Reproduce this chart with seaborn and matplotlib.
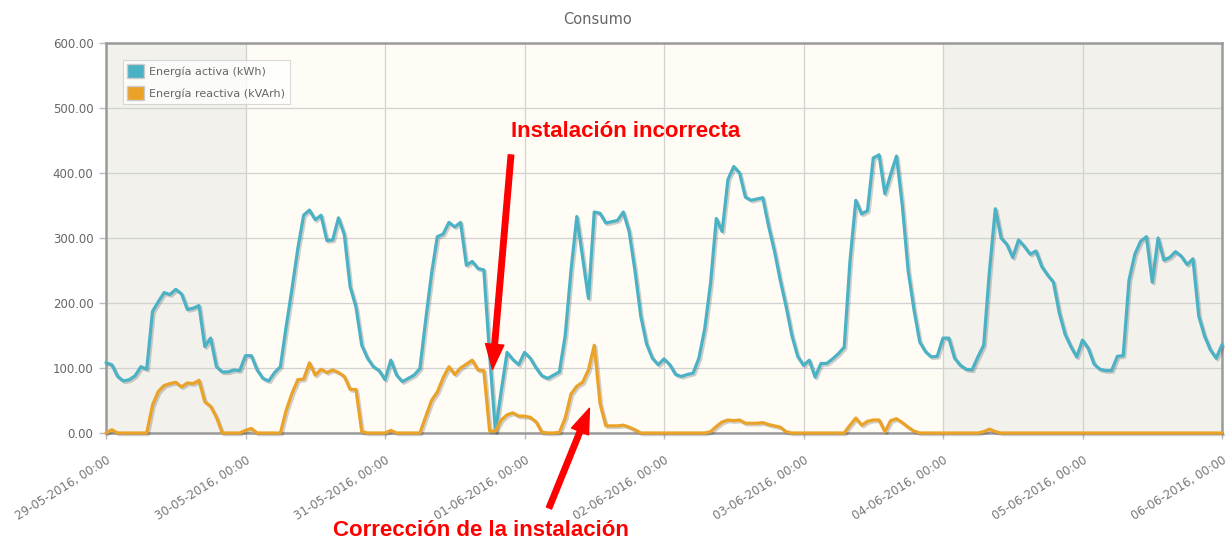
import numpy as np
import pandas as pd
import matplotlib
matplotlib.use("Agg")
import matplotlib.pyplot as plt
import matplotlib.dates as mdates
import matplotlib.patheffects as pe
from matplotlib.patches import Patch
from matplotlib.ticker import FormatStrFormatter
import seaborn as sns

# ---------------- data (hourly readings) ----------------
activa_29_05 = [108, 105, 87, 80, 82, 88, 102, 98, 187, 202, 216, 213, 221, 214, 190, 192, 196, 133, 146, 102, 94, 94, 97, 96]
activa_30_05 = [119, 119, 97, 84, 80, 93, 102, 164, 222, 284, 335, 343, 328, 335, 296, 297, 331, 305, 225, 194, 135, 115, 102, 96]
activa_31_05 = [82, 112, 89, 79, 84, 89, 99, 174, 245, 302, 306, 324, 317, 324, 258, 264, 253, 251, 120, 2, 65, 124, 113, 105]
activa_01_06 = [124, 115, 100, 88, 84, 89, 94, 150, 250, 333, 270, 207, 340, 338, 323, 325, 327, 340, 310, 250, 180, 137, 115, 105]
activa_02_06 = [114, 105, 90, 87, 90, 92, 115, 160, 230, 330, 310, 390, 410, 400, 363, 358, 360, 362, 318, 280, 235, 195, 150, 118]
activa_03_06 = [104, 112, 86, 107, 107, 114, 122, 132, 265, 358, 337, 342, 423, 428, 368, 398, 426, 350, 250, 190, 140, 125, 117, 118]
activa_04_06 = [146, 146, 115, 104, 98, 97, 117, 135, 250, 345, 300, 290, 270, 297, 287, 275, 280, 256, 243, 232, 185, 152, 133, 117]
activa_05_06 = [143, 130, 106, 98, 96, 96, 118, 119, 235, 275, 295, 302, 232, 300, 266, 270, 279, 272, 259, 268, 180, 149, 128, 115]
activa_final = [136]

reactiva_29_05 = [0, 5, 0, 0, 0, 0, 0, 0, 43, 64, 73, 76, 78, 71, 77, 76, 81, 48, 41, 24, 0, 0, 0, 0]
reactiva_30_05 = [4, 7, 0, 0, 0, 0, 0, 35, 61, 82, 83, 108, 89, 98, 93, 97, 93, 87, 67, 67, 2, 0, 0, 0]
reactiva_31_05 = [0, 4, 0, 0, 0, 0, 0, 25, 50, 63, 85, 102, 90, 100, 106, 112, 97, 96, 3, 3, 20, 28, 31, 26]
reactiva_01_06 = [26, 24, 17, 1, 0, 0, 1, 23, 60, 72, 78, 97, 135, 45, 11, 11, 11, 12, 9, 5, 0, 0, 0, 0]
reactiva_02_06 = [0, 0, 0, 0, 0, 0, 0, 0, 2, 10, 17, 20, 19, 20, 15, 15, 15, 16, 13, 11, 9, 2, 0, 0]
reactiva_03_06 = [0, 0, 0, 0, 0, 0, 0, 0, 12, 23, 12, 18, 20, 20, 2, 19, 22, 16, 9, 3, 0, 0, 0, 0]
reactiva_04_06 = [0, 0, 0, 0, 0, 0, 0, 2, 6, 2, 0, 0, 0, 0, 0, 0, 0, 0, 0, 0, 0, 0, 0, 0]
reactiva_05_06 = [0] * 24
reactiva_final = [0]

series_names = ["Energía activa (kWh)", "Energía reactiva (kVArh)"]
series_colors = ["#4bb2c5", "#eaa228"]
start_date = "2016-05-29 00:00"
day_ticks = pd.date_range("2016-05-29", "2016-06-06", freq="D")
y_ticks = [0, 100, 200, 300, 400, 500, 600]
band_edges = ["2016-05-29", "2016-05-30", "2016-06-04", "2016-06-06"]
band_colors = ["#f2f1ec", "#fefcf4", "#f2f1ec"]

activa = (activa_29_05 + activa_30_05 + activa_31_05 + activa_01_06 +
          activa_02_06 + activa_03_06 + activa_04_06 + activa_05_06 + activa_final)
reactiva = (reactiva_29_05 + reactiva_30_05 + reactiva_31_05 + reactiva_01_06 +
            reactiva_02_06 + reactiva_03_06 + reactiva_04_06 + reactiva_05_06 + reactiva_final)
fechas = pd.date_range(start_date, periods=len(activa), freq="h")

df = pd.concat([
    pd.DataFrame({"fecha": fechas, "valor": activa, "serie": series_names[0]}),
    pd.DataFrame({"fecha": fechas, "valor": reactiva, "serie": series_names[1]}),
])

# ---------------- figure ----------------
sns.set_style("white")
plt.rcParams["font.family"] = ["DejaVu Sans"]

W, H = 1228, 545
fig = plt.figure(figsize=(W / 100, H / 100), dpi=100)
ax = fig.add_axes([106 / W, 112 / H, 1116 / W, 390 / H])

for i, c in enumerate(band_colors):
    ax.axvspan(pd.Timestamp(band_edges[i]), pd.Timestamp(band_edges[i + 1]),
               color=c, zorder=0, lw=0)

sns.lineplot(data=df, x="fecha", y="valor", hue="serie", hue_order=series_names,
             palette=series_colors, linewidth=2.3, ax=ax, legend=False)
for ln in ax.lines:
    ln.set_path_effects([pe.SimpleLineShadow(offset=(1.2, -1.2), alpha=0.18, shadow_color="k"),
                         pe.Normal()])
    ln.set_clip_on(False)
    ln.set_zorder(3)

ax.set_xlim(day_ticks[0], day_ticks[-1])
ax.set_ylim(0, 600)
ax.set_yticks(y_ticks)
ax.yaxis.set_major_formatter(FormatStrFormatter("%.2f"))
ax.set_xticks(day_ticks)
ax.xaxis.set_major_formatter(mdates.DateFormatter("%d-%m-%Y, %H:%M"))
ax.set_xlabel("")
ax.set_ylabel("")

ax.grid(True, color="#d2d2d2", lw=0.9)
ax.set_axisbelow(True)
for s in ax.spines.values():
    s.set_visible(True)
    s.set_color("#9a9a9a")
    s.set_linewidth(1.8)

ax.tick_params(axis="y", which="major", left=True, length=5, width=1, color="#bbbbbb",
               pad=4, labelsize=8.5, labelcolor="#666666")
ax.tick_params(axis="x", which="major", bottom=True, length=4, width=1, color="#bbbbbb",
               pad=11, labelsize=8.5, labelcolor="#777777")
for lab in ax.get_xticklabels():
    lab.set_rotation(32)
    lab.set_ha("right")
    lab.set_rotation_mode("anchor")

handles = [Patch(facecolor=series_colors[0], edgecolor="#cccccc", label=series_names[0]),
           Patch(facecolor=series_colors[1], edgecolor="#cccccc", label=series_names[1])]
leg = ax.legend(handles=handles, loc="upper left", bbox_to_anchor=(0.015, 0.957),
                frameon=True, fancybox=False, edgecolor="#cccccc", framealpha=0.75,
                fontsize=8, labelcolor="#666666", handlelength=1.55, handleheight=1.5,
                handletextpad=0.45, borderpad=0.4, labelspacing=0.75, borderaxespad=0)
leg.get_frame().set_linewidth(0.8)

fig.text(597 / W, 1 - 20 / H, "Consumo", ha="center", va="center",
         fontsize=10.5, color="#666666")

# ---------------- annotations ----------------
red = "#ff0000"
afont = dict(family=["Liberation Sans", "DejaVu Sans"],
             fontweight="bold", fontsize=16, color=red)
arrow = dict(arrowstyle="simple,head_length=1.5,head_width=1.1,tail_width=0.33",
             color=red, mutation_scale=12, shrinkA=0, shrinkB=0)

ax.annotate("", xy=(pd.Timestamp("2016-05-31 18:30"), 98), xycoords="data",
            xytext=(511, H - 155), textcoords="figure pixels", arrowprops=arrow,
            annotation_clip=False)
fig.text(626 / W, 1 - 131 / H, "Instalación incorrecta", ha="center", va="center", **afont)

ax.annotate("", xy=(pd.Timestamp("2016-06-01 11:10"), 38), xycoords="data",
            xytext=(549, H - 508), textcoords="figure pixels", arrowprops=arrow,
            annotation_clip=False)
fig.text(481 / W, 1 - 530 / H, "Corrección de la instalación", ha="center", va="center", **afont)

fig.savefig("out.png", dpi=100)
